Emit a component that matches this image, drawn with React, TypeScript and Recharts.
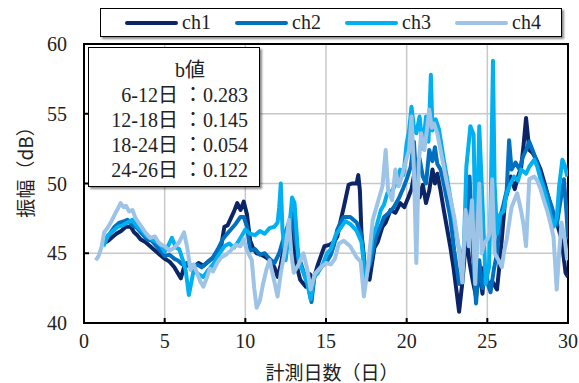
import React from 'react';
import { LineChart, Line, XAxis, YAxis, CartesianGrid, ReferenceArea } from 'recharts';

// ---- data ----
const xTicks = [0, 5, 10, 15, 20, 25, 30];
const yTicks = [40, 45, 50, 55, 60];

const ch1Day = [1.2, 1.5, 1.8, 2.0, 2.3, 2.6, 2.9, 3.1, 3.3, 3.5, 3.8, 4.1, 4.4, 4.7, 5.0, 5.3, 5.6, 5.8, 6.0, 6.2, 6.5, 6.8, 7.1, 7.4, 7.7, 8.0, 8.3, 8.5, 8.7, 8.9, 9.1, 9.3, 9.5, 9.7, 9.9, 10.1, 10.3, 10.5, 10.7, 11.0, 11.3, 11.6, 11.8, 12.0, 12.2, 12.4, 12.6, 12.8, 12.9, 13.1, 13.4, 13.75, 14.0, 14.2, 14.5, 14.9, 15.2, 15.5, 15.7, 15.9, 16.1, 16.4, 16.6, 16.9, 17.0, 17.1, 17.2, 17.45, 17.7, 18.0, 18.2, 18.5, 18.7, 19.0, 19.3, 19.6, 19.85, 20.1, 20.3, 20.55, 20.8, 21.0, 21.2, 21.4, 21.6, 21.75, 21.9, 22.1, 22.3, 22.5, 22.7, 22.9, 23.1, 23.25, 23.45, 23.7, 23.9, 24.1, 24.3, 24.5, 24.7, 24.8, 25.1, 25.3, 25.6, 25.8, 26.1, 26.3, 26.45, 26.7, 26.9, 27.1, 27.25, 27.4, 27.6, 27.8, 28.0, 28.3, 28.6, 29.0, 29.3, 29.6, 29.85, 30.0];
const ch1Amp = [45.7, 45.9, 46.2, 46.4, 46.6, 46.9, 46.9, 46.5, 46.3, 46.0, 45.8, 45.5, 45.2, 44.9, 44.6, 44.4, 44.0, 43.6, 43.2, 44.0, 44.2, 44.0, 44.3, 44.1, 44.4, 44.7, 45.2, 45.5, 46.9, 47.0, 47.5, 48.0, 48.6, 48.1, 48.7, 47.8, 45.9, 45.3, 45.0, 44.9, 44.7, 44.4, 44.0, 43.3, 44.2, 45.5, 46.6, 47.4, 46.2, 44.5, 43.1, 42.6, 43.5, 43.0, 44.2, 45.5, 45.6, 45.8, 46.2, 47.3, 48.3, 49.9, 50.0, 50.0, 50.6, 49.5, 46.4, 43.6, 43.1, 45.4, 45.8, 46.9, 47.2, 48.1, 47.9, 48.6, 48.3, 49.0, 49.6, 51.2, 49.0, 49.9, 48.6, 49.5, 51.0, 50.0, 50.7, 49.5, 48.1, 46.8, 45.5, 44.0, 42.2, 40.8, 42.9, 46.2, 44.3, 43.0, 41.9, 43.8, 42.1, 44.0, 42.6, 43.0, 42.4, 44.7, 48.8, 49.6, 50.5, 49.6, 50.5, 51.2, 52.8, 54.7, 52.4, 52.2, 51.8, 51.0, 49.8, 48.1, 47.2, 46.0, 43.6, 43.3];

const ch2Day = [1.3, 1.6, 1.9, 2.2, 2.5, 2.7, 3.0, 3.3, 3.6, 3.9, 4.2, 4.5, 4.8, 5.0, 5.3, 5.6, 5.8, 6.1, 6.4, 6.7, 7.0, 7.3, 7.6, 8.0, 8.3, 8.6, 8.8, 9.1, 9.4, 9.7, 9.9, 10.1, 10.3, 10.6, 10.9, 11.2, 11.5, 11.8, 12.1, 12.4, 12.7, 12.9, 13.1, 13.3, 13.6, 13.9, 14.1, 14.3, 14.6, 15.0, 15.3, 15.5, 15.7, 15.9, 16.1, 16.5, 16.9, 17.2, 17.45, 17.8, 18.0, 18.2, 18.4, 18.6, 18.9, 19.2, 19.5, 19.8, 20.0, 20.25, 20.45, 20.6, 20.8, 21.0, 21.2, 21.4, 21.6, 21.75, 21.9, 22.1, 22.3, 22.5, 22.7, 22.95, 23.25, 23.5, 23.7, 23.9, 24.1, 24.3, 24.5, 24.7, 24.9, 25.2, 25.4, 25.6, 25.8, 26.0, 26.2, 26.35, 26.5, 26.75, 27.0, 27.2, 27.4, 27.6, 27.8, 28.0, 28.3, 28.5, 28.7, 29.0, 29.3, 29.5, 29.75, 29.9, 30.0];
const ch2Amp = [46.0, 46.4, 46.9, 47.2, 47.3, 47.4, 47.0, 46.8, 46.4, 46.0, 45.9, 45.5, 45.1, 44.8, 44.9, 44.6, 44.5, 44.2, 44.3, 43.9, 44.2, 44.0, 44.3, 44.7, 45.3, 46.0, 46.3, 46.7, 47.1, 47.6, 47.6, 46.9, 45.2, 45.3, 44.9, 45.0, 44.6, 44.3, 45.0, 46.2, 47.2, 47.9, 46.0, 44.8, 43.7, 42.6, 41.5, 43.5, 43.9, 44.3, 44.9, 45.6, 46.7, 47.2, 47.6, 47.6, 47.2, 46.3, 43.3, 44.5, 45.7, 46.5, 47.0, 47.6, 47.9, 48.3, 48.9, 49.7, 50.3, 51.2, 53.0, 50.2, 51.8, 50.5, 50.0, 52.4, 51.6, 52.6, 51.4, 51.0, 50.0, 48.8, 47.6, 45.2, 42.8, 44.1, 47.5, 50.5, 45.0, 41.4, 44.5, 42.5, 43.3, 42.2, 43.8, 45.0, 47.6, 48.5, 49.5, 53.1, 51.0, 51.5, 51.0, 51.9, 52.4, 53.0, 52.4, 51.8, 50.6, 49.9, 49.3, 48.3, 47.0, 48.5, 50.3, 48.0, 46.0];

const ch3Day = [1.2, 1.5, 1.8, 2.1, 2.4, 2.7, 3.0, 3.3, 3.6, 3.9, 4.2, 4.5, 4.8, 5.0, 5.2, 5.45, 5.7, 5.9, 6.1, 6.3, 6.5, 6.8, 7.1, 7.4, 7.7, 8.0, 8.3, 8.7, 9.0, 9.3, 9.6, 10.0, 10.3, 10.6, 10.9, 11.2, 11.5, 11.8, 12.0, 12.1, 12.2, 12.3, 12.5, 12.7, 12.9, 13.05, 13.3, 13.6, 13.85, 14.05, 14.26, 14.5, 14.8, 15.06, 15.3, 15.6, 15.9, 16.2, 16.5, 16.9, 17.2, 17.45, 17.7, 17.9, 18.15, 18.4, 18.6, 18.8, 19.1, 19.35, 19.6, 19.8, 20.0, 20.15, 20.3, 20.45, 20.6, 20.8, 21.0, 21.2, 21.35, 21.5, 21.6, 21.8, 22.0, 22.3, 22.5, 22.7, 22.9, 23.1, 23.4, 23.55, 23.7, 23.95, 24.15, 24.3, 24.5, 24.65, 24.9, 25.1, 25.2, 25.35, 25.45, 25.6, 25.8, 26.0, 26.2, 26.45, 26.65, 26.9, 27.1, 27.4, 27.6, 27.9, 28.1, 28.3, 28.5, 28.7, 28.9, 29.1, 29.3, 29.45, 29.65, 29.8, 29.95];
const ch3Amp = [45.5, 46.3, 46.6, 46.9, 47.0, 47.2, 47.4, 46.9, 46.6, 46.2, 46.0, 45.8, 45.5, 45.1, 45.5, 46.1, 45.4, 45.3, 44.6, 43.8, 42.0, 43.8, 43.5, 43.3, 43.8, 44.2, 44.8, 45.5, 45.7, 45.4, 45.9, 46.7, 46.4, 46.3, 46.6, 46.4, 46.8, 46.9, 47.2, 48.3, 50.0, 46.7, 44.5, 46.5, 49.0, 48.6, 44.5, 43.6, 42.8, 41.7, 43.3, 43.6, 44.2, 45.0, 45.3, 46.3, 46.8, 47.3, 47.1, 46.6, 45.8, 43.0, 44.5, 46.2, 47.0, 48.1, 48.5, 49.3, 49.5, 50.0, 51.0, 50.6, 52.9, 53.8, 55.5, 54.0, 53.6, 54.8, 52.5, 54.8, 53.0, 57.8, 53.8, 54.6, 53.9, 51.7, 50.4, 49.0, 47.6, 46.2, 44.3, 45.5, 51.2, 54.1, 53.5, 44.0, 54.1, 50.0, 42.8, 44.0, 48.0, 58.8, 50.0, 46.4, 47.8, 48.0, 49.3, 50.0, 50.5, 50.2, 51.0, 50.7, 51.2, 51.7, 51.2, 50.3, 49.6, 48.8, 47.8, 46.9, 47.5, 49.8, 51.7, 51.3, 50.5];

const ch4Day = [0.73, 0.9, 1.1, 1.25, 1.45, 1.7, 1.96, 2.1, 2.27, 2.45, 2.6, 2.8, 3.0, 3.2, 3.5, 3.8, 4.1, 4.4, 4.6, 4.8, 5.0, 5.3, 5.6, 5.9, 6.2, 6.4, 6.6, 6.8, 7.0, 7.2, 7.4, 7.6, 7.8, 8.0, 8.25, 8.5, 8.8, 9.1, 9.4, 9.7, 9.9, 10.1, 10.4, 10.55, 10.7, 10.9, 11.1, 11.3, 11.5, 11.7, 12.0, 12.2, 12.5, 12.7, 12.85, 13.0, 13.3, 13.6, 13.85, 14.05, 14.3, 14.6, 15.0, 15.3, 15.55, 15.8, 16.1, 16.5, 16.9, 17.15, 17.35, 17.6, 17.9, 18.2, 18.5, 18.7, 18.85, 19.1, 19.3, 19.5, 19.7, 19.9, 20.15, 20.3, 20.45, 20.6, 20.75, 20.9, 21.1, 21.25, 21.4, 21.55, 21.7, 21.9, 22.1, 22.3, 22.5, 22.75, 22.95, 23.25, 23.45, 23.65, 23.85, 24.05, 24.25, 24.5, 24.65, 24.8, 25.0, 25.15, 25.3, 25.45, 25.7, 25.9, 26.05, 26.2, 26.5, 26.85, 27.1, 27.25, 27.4, 27.6, 27.9, 28.1, 28.3, 28.5, 28.7, 28.9, 29.1, 29.3, 29.45, 29.6, 29.8, 29.95];
const ch4Amp = [44.5, 44.8, 45.5, 46.5, 46.8, 47.3, 47.9, 48.2, 48.6, 48.3, 48.4, 48.0, 48.1, 47.5, 47.0, 46.5, 46.1, 46.2, 45.8, 45.6, 45.5, 45.2, 45.4, 45.8, 46.5, 45.4, 43.8, 44.2, 43.6, 43.0, 42.6, 43.2, 43.9, 43.7, 44.3, 44.7, 44.9, 45.2, 45.6, 45.5, 46.0, 45.2, 44.5, 42.5, 41.1, 41.6, 42.8, 43.8, 44.5, 43.5, 41.9, 43.6, 45.5, 47.4, 45.0, 43.6, 44.2, 45.0, 43.8, 42.4, 43.5, 43.9, 44.3, 44.2, 44.6, 45.7, 45.9, 45.5, 44.7, 44.4, 41.9, 44.0, 47.4, 48.6, 49.8, 52.4, 49.5, 48.8, 51.0, 49.8, 50.5, 51.4, 52.4, 54.8, 51.0, 44.3, 51.5, 53.6, 52.4, 53.8, 55.3, 54.0, 54.3, 53.6, 52.4, 51.2, 50.0, 48.7, 47.6, 45.2, 42.9, 48.1, 45.5, 48.8, 42.8, 50.0, 45.0, 45.7, 46.0, 46.4, 50.3, 45.0, 44.5, 44.0, 45.2, 46.0, 48.3, 49.3, 48.0, 47.0, 45.5, 50.3, 50.5, 50.2, 49.6, 48.8, 48.1, 47.2, 46.2, 42.4, 45.0, 47.2, 46.0, 44.5];

const seriesNames = ['ch1', 'ch2', 'ch3', 'ch4'];
const seriesColors = ['#0b2566', '#0070c0', '#00b0f0', '#9dc3e6'];
const seriesDays = [ch1Day, ch2Day, ch3Day, ch4Day];
const seriesAmps = [ch1Amp, ch2Amp, ch3Amp, ch4Amp];

const bTitle = 'b値';
const bPeriods = ['6-12日', '12-18日', '18-24日', '24-26日'];
const bValues = [0.283, 0.145, 0.054, 0.122];

const xTitle = '計測日数（日）';
const yTitle = '振幅（dB）';

const serif = '"Liberation Serif", "Noto Sans CJK JP", serif';

const seriesData = seriesDays.map((days, s) =>
  days.map((d, i) => ({ day: d, amp: seriesAmps[s][i] }))
);

const YLabel = (props: any) => {
  const vb = props.viewBox || { x: 24, y: 44, width: 60, height: 279 };
  const cx = vb.x;
  const cy = vb.y + vb.height / 2 - 16;
  return (
    <text
      x={cx}
      y={cy}
      transform={`rotate(-90, ${cx}, ${cy})`}
      textAnchor="middle"
      dominantBaseline="central"
      fontFamily='"Noto Sans CJK JP", sans-serif'
      fontSize={19}
      fill="#222"
    >
      {yTitle}
    </text>
  );
};

const XLabel = (props: any) => {
  const vb = props.viewBox || { x: 84, y: 323, width: 484, height: 40 };
  const cx = vb.x + vb.width / 2 + 6;
  const cy = vb.y + 48;
  return (
    <text
      x={cx}
      y={cy}
      textAnchor="middle"
      dominantBaseline="central"
      fontFamily='"Noto Sans CJK JP", sans-serif'
      fontSize={19}
      fill="#222"
    >
      {xTitle}
    </text>
  );
};

export default function App() {
  return (
    <div
      style={{
        position: 'absolute',
        left: 0,
        top: 0,
        width: 579,
        height: 383,
        background: '#fff',
        overflow: 'hidden',
      }}
    >
      <LineChart
        width={579}
        height={383}
        margin={{ top: 44, right: 11, bottom: 20, left: 24 }}
      >
        <CartesianGrid stroke="#c8c8c8" strokeWidth={1.5} />
        <XAxis
          type="number"
          dataKey="day"
          domain={[0, 30]}
          ticks={xTicks}
          allowDataOverflow
          height={40}
          axisLine={{ stroke: '#000', strokeWidth: 2 }}
          tickLine={{ stroke: '#000', strokeWidth: 2 }}
          tickSize={-5}
          tickMargin={16}
          tick={{ fontFamily: serif, fontSize: 20, fill: '#222' }}
          label={<XLabel />}
        />
        <YAxis
          type="number"
          domain={[40, 60]}
          ticks={yTicks}
          allowDataOverflow
          width={60}
          axisLine={{ stroke: '#000', strokeWidth: 2 }}
          tickLine={{ stroke: '#000', strokeWidth: 2 }}
          tickSize={-5}
          tickMargin={22}
          tick={{ fontFamily: serif, fontSize: 20, fill: '#222' }}
          label={<YLabel />}
        />
        {seriesNames.map((name, s) => (
          <Line
            key={name}
            name={name}
            data={seriesData[s]}
            dataKey="amp"
            type="linear"
            stroke={seriesColors[s]}
            strokeWidth={4}
            strokeLinejoin="round"
            dot={false}
            activeDot={false}
            isAnimationActive={false}
          />
        ))}
        <ReferenceArea
          x1={0}
          x2={30}
          y1={40}
          y2={60}
          fill="none"
          fillOpacity={0}
          stroke="#000"
          strokeWidth={2}
          ifOverflow="visible"
        />
      </LineChart>

      {/* legend */}
      <div
        style={{
          position: 'absolute',
          left: 100,
          top: 8,
          width: 460,
          height: 27,
          border: '1.5px solid #000',
          background: '#fff',
          boxShadow: '2px 2px 2px rgba(0,0,0,0.45)',
        }}
      >
        {seriesNames.map((name, s) => (
          <div
            key={name}
            style={{
              position: 'absolute',
              left: 24 + s * 110,
              top: 0,
              height: 27,
              display: 'flex',
              alignItems: 'center',
            }}
          >
            <div style={{ width: 53, height: 4, background: seriesColors[s], borderRadius: 2 }} />
            <span
              style={{
                marginLeft: 4,
                fontFamily: serif,
                fontSize: 20,
                lineHeight: '27px',
                color: '#222',
              }}
            >
              {name}
            </span>
          </div>
        ))}
      </div>

      {/* b-value box */}
      <div
        style={{
          position: 'absolute',
          left: 88,
          top: 47,
          width: 170,
          height: 138,
          border: '1.5px solid #000',
          background: '#fff',
          boxShadow: '2px 2px 2px rgba(0,0,0,0.45)',
          fontFamily: serif,
          fontSize: 20,
          color: '#222',
        }}
      >
        <div style={{ position: 'absolute', left: 86, top: 10, lineHeight: '25px', whiteSpace: 'nowrap' }}>
          {bTitle}
        </div>
        {bPeriods.map((p, i) => (
          <div
            key={p}
            style={{
              position: 'absolute',
              right: 11,
              top: 35 + i * 25,
              lineHeight: '25px',
              whiteSpace: 'nowrap',
              textAlign: 'right',
            }}
          >
            {p} ：{bValues[i].toFixed(3)}
          </div>
        ))}
      </div>
    </div>
  );
}
